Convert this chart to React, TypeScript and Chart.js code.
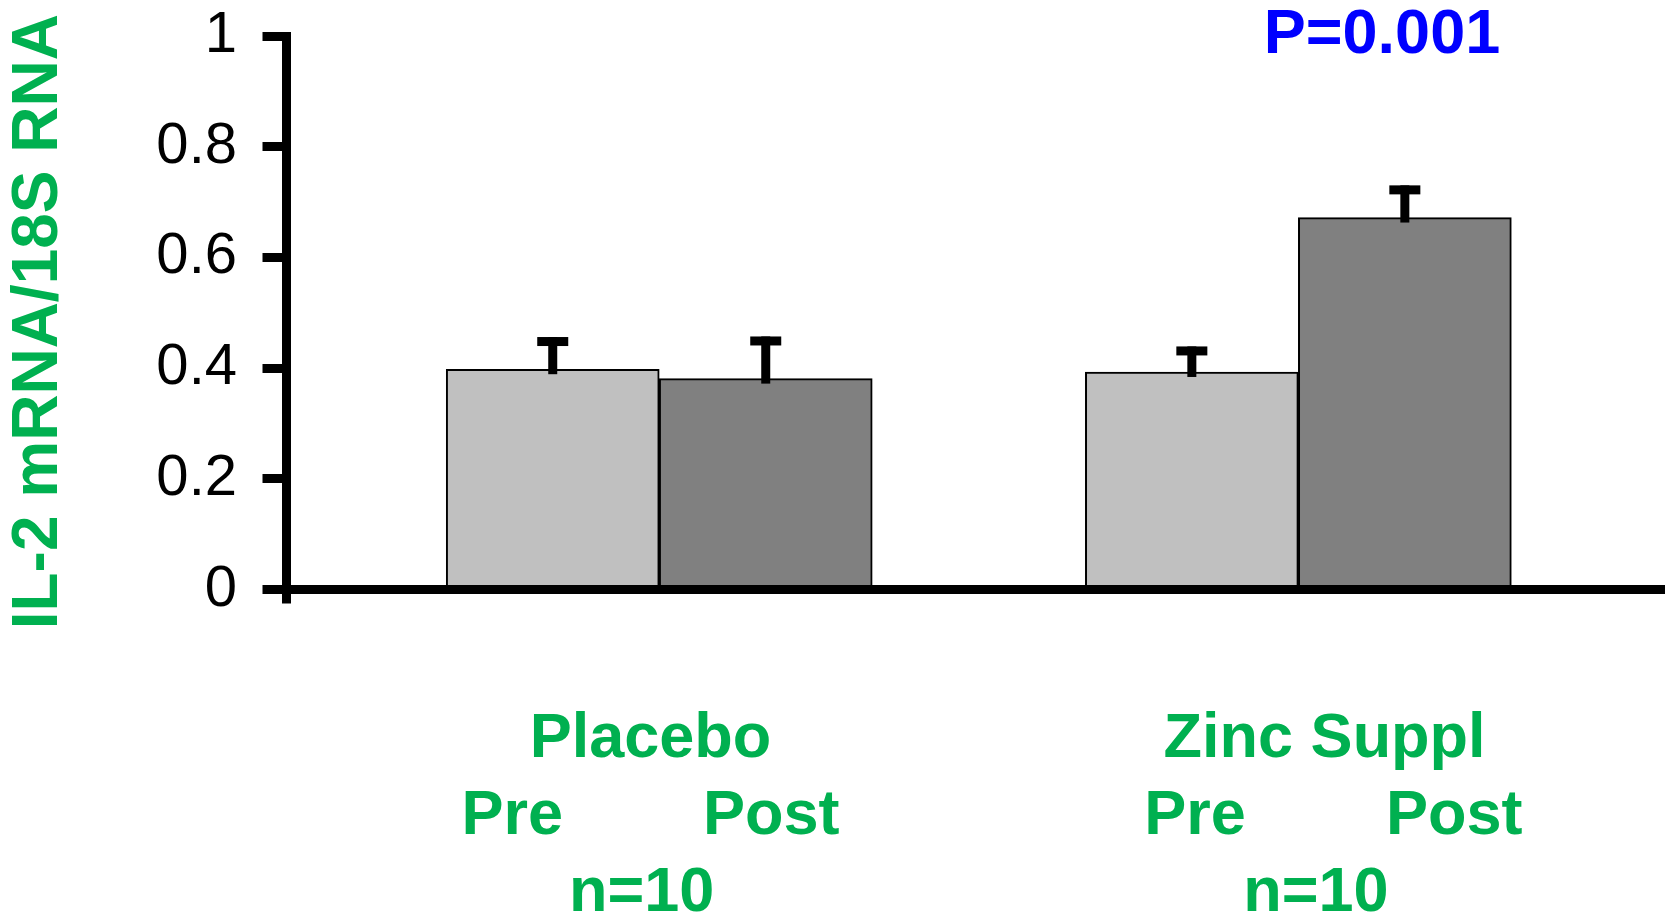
import { useEffect, useRef } from 'react';
import { Chart, registerables } from 'chart.js';

Chart.register(...registerables);

// ---- data ----
const groups = ['Placebo', 'Zinc Suppl'];
const timepoints = ['Pre', 'Post'];
const groupN = ['n=10', 'n=10'];
const preMeans = [0.398, 0.393];
const postMeans = [0.381, 0.672];
const preErr = [0.05, 0.038];
const postErr = [0.068, 0.05];
const yTicks = [0, 0.2, 0.4, 0.6, 0.8, 1];
const yTitle = 'IL-2 mRNA/18S RNA';
const pValueText = 'P=0.001';

// ---- styling ----
const FONT = "'Liberation Sans', Arial, Helvetica, sans-serif";
const GREEN = '#00B050';
const BLUE = '#0000FF';
const PRE_COLOR = '#C0C0C0';
const POST_COLOR = '#808080';
// label fine alignment (space counts) per group: [name, pre/post, n]
const leadSpaces = [
  [0, 0, 0],
  [3, 4, 2],
];
const trailSpaces = [
  [1, 1, 2],
  [0, 0, 0],
];
const prePostGap = 8;

function labelLines(g: number): string[] {
  const pad = (s: string, k: number) =>
    ' '.repeat(leadSpaces[g][k]) + s + ' '.repeat(trailSpaces[g][k]);
  return [
    pad(groups[g], 0),
    pad(timepoints[0] + ' '.repeat(prePostGap) + timepoints[1], 1),
    pad(groupN[g], 2),
  ];
}

export default function App() {
  const ref = useRef<HTMLCanvasElement>(null);

  useEffect(() => {
    const canvas = ref.current;
    if (!canvas) return;

    const errorBars = {
      id: 'errorBars',
      afterDatasetsDraw(chart: any) {
        const ctx = chart.ctx;
        const y = chart.scales.y;
        const means = [preMeans, postMeans];
        const errs = [preErr, postErr];
        const stemW = 9;
        const capW = 31;
        const capH = 9;
        const below = 5;
        ctx.save();
        ctx.fillStyle = '#000';
        chart.data.datasets.forEach((_: any, di: number) => {
          const meta = chart.getDatasetMeta(di);
          meta.data.forEach((el: any, i: number) => {
            const top = y.getPixelForValue(means[di][i] + errs[di][i]);
            const barTop = el.y;
            ctx.fillRect(el.x - stemW / 2, top - capH / 2, stemW, barTop + below - (top - capH / 2));
            ctx.fillRect(el.x - capW / 2, top - capH / 2, capW, capH);
          });
        });
        ctx.restore();
      },
    };

    const pValue = {
      id: 'pValue',
      afterDraw(chart: any) {
        const ctx = chart.ctx;
        ctx.save();
        ctx.font = `bold 63px ${FONT}`;
        ctx.fillStyle = BLUE;
        ctx.textAlign = 'center';
        ctx.textBaseline = 'alphabetic';
        ctx.fillText(pValueText, 1382, 53);
        ctx.restore();
      },
    };

    const chart = new Chart(canvas, {
      type: 'bar',
      data: {
        datasets: [
          {
            label: timepoints[0],
            data: preMeans.map((v, i) => ({ x: i, y: v })),
            backgroundColor: PRE_COLOR,
            borderColor: '#000',
            borderWidth: 2,
          },
          {
            label: timepoints[1],
            data: postMeans.map((v, i) => ({ x: i, y: v })),
            backgroundColor: POST_COLOR,
            borderColor: '#000',
            borderWidth: 2,
          },
        ],
      } as any,
      options: {
        animation: false,
        responsive: false,
        maintainAspectRatio: false,
        devicePixelRatio: 1,
        datasets: { bar: { barThickness: 213 } } as any,
        layout: { padding: { top: 36, left: 0, right: 0, bottom: 0 } },
        plugins: {
          legend: { display: false },
          tooltip: { enabled: false },
          title: { display: false },
        },
        scales: {
          x: {
            type: 'linear',
            min: -0.584,
            max: 1.5737,
            offset: false,
            afterBuildTicks: (s: any) => {
              s.ticks = [{ value: s.min }, ...groups.map((_, i) => ({ value: i }))];
            },
            afterFit: (s: any) => {
              s.height = 324.5;
              s.paddingLeft = 0;
              s.paddingRight = 0;
            },
            grid: {
              display: true,
              offset: false,
              drawOnChartArea: false,
              drawTicks: true,
              tickLength: 14,
              tickWidth: 9,
              lineWidth: 9,
              tickColor: (c: any) => (c.index === 0 ? '#000' : 'rgba(0,0,0,0)'),
              color: 'rgba(0,0,0,0)',
            },
            border: { display: true, color: '#000', width: 9, z: 1 },
            ticks: {
              autoSkip: false,
              maxRotation: 0,
              minRotation: 0,
              padding: 97.5,
              color: GREEN,
              font: { family: FONT, size: 63, weight: 'bold', lineHeight: 77 / 63 },
              callback: (_v: any, index: number) => (index === 0 ? '' : labelLines(index - 1)),
            },
          },
          y: {
            type: 'linear',
            min: 0,
            max: 1,
            afterBuildTicks: (s: any) => {
              s.ticks = yTicks.map((v) => ({ value: v }));
            },
            afterFit: (s: any) => {
              s.width = 286;
              s.paddingTop = 36;
              s.paddingBottom = 0;
            },
            grid: {
              display: true,
              drawOnChartArea: false,
              drawTicks: true,
              tickLength: 23.5,
              tickWidth: 9,
              lineWidth: 9,
              tickColor: '#000',
              color: '#000',
            },
            border: { display: true, color: '#000', width: 9, z: 1 },
            ticks: {
              padding: 25.5,
              color: '#000',
              font: { family: FONT, size: 58 },
              callback: (v: any) => String(v),
            },
            title: {
              display: true,
              text: yTitle + ' ',
              color: GREEN,
              font: { family: FONT, size: 64, weight: 'bold' },
              padding: { top: 1, bottom: 0 },
            },
          },
        } as any,
      },
      plugins: [errorBars, pValue],
    });

    return () => chart.destroy();
  }, []);

  return (
    <canvas
      ref={ref}
      width={1665}
      height={914}
      style={{ position: 'fixed', left: 0, top: 0, width: 1665, height: 914, display: 'block' }}
    />
  );
}
